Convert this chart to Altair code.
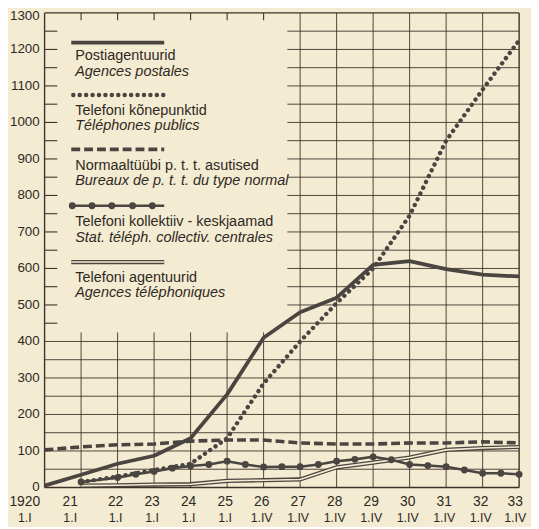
import altair as alt
import pandas as pd

# ---------------- data ----------------
years = list(range(1920, 1934))
post_agencies = [5, 35, 65, 87, 135, 255, 410, 480, 520, 610, 620, 598, 583, 578]

pub_years = list(range(1921, 1934))
pub_phones = [15, 30, 48, 65, 135, 285, 400, 505, 600, 745, 950, 1090, 1225]

normal_offices = [103, 111, 117, 119, 127, 130, 130, 122, 119, 119, 122, 122, 125, 122]

coll_years = [1921, 1922, 1922.5, 1923, 1923.5, 1924, 1924.5, 1925, 1925.5, 1926,
              1926.5, 1927, 1927.5, 1928, 1928.5, 1929, 1929.5, 1930, 1930.5,
              1931, 1931.5, 1932, 1932.5, 1933]
coll_centrals = [15, 27, 36, 44, 53, 59, 63, 72, 63, 56,
                 57, 57, 63, 72, 77, 84, 76, 63, 60,
                 57, 48, 39, 39, 36]

agent_years = list(range(1921, 1934))
tel_agencies = [5, 6, 8, 9, 18, 20, 22, 55, 68, 82, 103, 108, 111]

x_top_labels = ["1920", "21", "22", "23", "24", "25", "26", "27", "28", "29", "30", "31", "32", "33"]
x_bottom_labels = ["1.I"] * 6 + ["1.IV"] * 8
y_label_values = list(range(0, 1301, 100))

legend_et = ["Postiagentuurid", "Telefoni kõnepunktid", "Normaaltüübi p. t. t. asutised",
             "Telefoni kollektiiv - keskjaamad", "Telefoni agentuurid"]
legend_fr = ["Agences postales", "Téléphones publics", "Bureaux de p. t. t. du type normal",
             "Stat. téléph. collectiv. centrales", "Agences téléphoniques"]

# ---------------- styling ----------------
BG = "#f3ecd2"
GRID = "#3e322b"
INK = "#4a4540"
TXT = "#2f2823"
FONT = "Liberation Sans"
W, H = 480, 480

# legend box (blank part of the grid), in data units
box_right = 1926.65
box_bottom = 425

xs = alt.Scale(domain=[1920, 1933], nice=False, zero=False)
ys = alt.Scale(domain=[0, 1300], nice=False, zero=False)

# ---------------- grid ----------------
h_rows = []
for v in range(50, 1300, 50):
    h_rows.append({"y": v, "x1": 1920 if v < box_bottom else box_right, "x2": 1933})
h_grid = alt.Chart(pd.DataFrame(h_rows)).mark_rule(color=GRID, strokeWidth=0.9).encode(
    x=alt.X("x1:Q", scale=xs, axis=None), x2="x2:Q",
    y=alt.Y("y:Q", scale=ys, axis=None))

v_rows = []
for yr in range(1921, 1933):
    v_rows.append({"x": yr, "y1": 0, "y2": box_bottom if yr < box_right else 1300})
v_grid = alt.Chart(pd.DataFrame(v_rows)).mark_rule(color=GRID, strokeWidth=0.9).encode(
    x=alt.X("x:Q", scale=xs, axis=None),
    y=alt.Y("y1:Q", scale=ys, axis=None), y2="y2:Q")

# inward ticks inside the legend box
lt_rows = [{"y": v, "x1": 1920, "x2": 1920.35} for v in range(450, 1300, 50)]
left_ticks = alt.Chart(pd.DataFrame(lt_rows)).mark_rule(color=GRID, strokeWidth=1.1).encode(
    x=alt.X("x1:Q", scale=xs, axis=None), x2="x2:Q",
    y=alt.Y("y:Q", scale=ys, axis=None))
tt_rows = [{"x": yr, "y1": 1300, "y2": 1280} for yr in range(1921, 1927)]
top_ticks = alt.Chart(pd.DataFrame(tt_rows)).mark_rule(color=GRID, strokeWidth=1.1).encode(
    x=alt.X("x:Q", scale=xs, axis=None),
    y=alt.Y("y1:Q", scale=ys, axis=None), y2="y2:Q")

# frame
frame_h = alt.Chart(pd.DataFrame({"y": [0, 1300], "x1": [1920, 1920], "x2": [1933, 1933]})).mark_rule(
    color=GRID, strokeWidth=1.4).encode(
    x=alt.X("x1:Q", scale=xs, axis=None), x2="x2:Q",
    y=alt.Y("y:Q", scale=ys, axis=None))
frame_v = alt.Chart(pd.DataFrame({"x": [1920, 1933], "y1": [0, 0], "y2": [1300, 1300]})).mark_rule(
    color=GRID, strokeWidth=1.4).encode(
    x=alt.X("x:Q", scale=xs, axis=None),
    y=alt.Y("y1:Q", scale=ys, axis=None), y2="y2:Q")

# y labels
df_yl = pd.DataFrame({"v": y_label_values, "lab": [str(v) for v in y_label_values]})

def ylabels(flt, dy):
    return alt.Chart(df_yl).transform_filter(flt).mark_text(
        font=FONT, fontSize=13.5, color=TXT, align="right", baseline="middle", dy=dy).encode(
        x=alt.value(-5), y=alt.Y("v:Q", scale=ys, axis=None), text="lab:N")

y_labels = [ylabels("datum.v < 1300", 0), ylabels("datum.v == 1300", 3)]

# ---------------- series ----------------
def enc(chart):
    return chart.encode(x=alt.X("year:Q", scale=xs, axis=None),
                        y=alt.Y("value:Q", scale=ys, axis=None))

df_post = pd.DataFrame({"year": years, "value": post_agencies})
df_pub = pd.DataFrame({"year": pub_years, "value": pub_phones})
df_norm = pd.DataFrame({"year": years, "value": normal_offices})
df_coll = pd.DataFrame({"year": coll_years, "value": coll_centrals})
df_agent = pd.DataFrame({"year": agent_years, "value": tel_agencies})

agent_outer = enc(alt.Chart(df_agent).mark_line(color=INK, strokeWidth=4.2))
agent_inner = enc(alt.Chart(df_agent).mark_line(color=BG, strokeWidth=1.6))
norm_line = enc(alt.Chart(df_norm).mark_line(color=INK, strokeWidth=3.6, strokeDash=[9, 4]))
coll_line = enc(alt.Chart(df_coll).mark_line(color=INK, strokeWidth=2.6))
coll_pts = enc(alt.Chart(df_coll).mark_circle(color=INK, size=48, opacity=1))
post_line = enc(alt.Chart(df_post).mark_line(color=INK, strokeWidth=3.8, strokeJoin="round"))
pub_line = enc(alt.Chart(df_pub).mark_line(color=INK, strokeWidth=4.4, strokeDash=[0.1, 6.4],
                                           strokeCap="round"))

# ---------------- x labels ----------------
df_xl = pd.DataFrame({"year": years, "top": x_top_labels, "bottom": x_bottom_labels})

def xlabels(field, ypix, size, dx, flt):
    return alt.Chart(df_xl).transform_filter(flt).mark_text(
        font=FONT, fontSize=size, color=TXT, baseline="middle", dx=dx).encode(
        x=alt.X("year:Q", scale=xs, axis=None), y=alt.value(ypix), text=f"{field}:N")

xl_layers = []
for field, ypix, size in [("top", 495, 14), ("bottom", 511, 12.5)]:
    xl_layers.append(xlabels(field, ypix, size, -20, "datum.year == 1920"))
    xl_layers.append(xlabels(field, ypix, size, -11, "datum.year == 1921"))
    xl_layers.append(xlabels(field, ypix, size, -2, "datum.year > 1921 && datum.year < 1933"))
    xl_layers.append(xlabels(field, ypix, size, -4, "datum.year == 1933"))

# ---------------- legend ----------------
one = pd.DataFrame({"a": [0]})
sx1, sx2 = 27, 121
sample_y = [30, 83, 138, 195, 252]
text_y = [44, 99, 155, 212, 268]
leg = []
leg.append(alt.Chart(one).mark_rule(color=INK, strokeWidth=3.8).encode(
    x=alt.value(sx1), x2=alt.value(sx2), y=alt.value(sample_y[0])))
leg.append(alt.Chart(one).mark_rule(color=INK, strokeWidth=4.4, strokeDash=[0.1, 6.4], strokeCap="round").encode(
    x=alt.value(sx1 + 2), x2=alt.value(sx2), y=alt.value(sample_y[1])))
leg.append(alt.Chart(one).mark_rule(color=INK, strokeWidth=3.6, strokeDash=[9, 4]).encode(
    x=alt.value(sx1), x2=alt.value(sx2), y=alt.value(sample_y[2])))
leg.append(alt.Chart(one).mark_rule(color=INK, strokeWidth=2.6).encode(
    x=alt.value(sx1), x2=alt.value(sx2), y=alt.value(sample_y[3])))
for px in [28, 48, 68, 89, 109]:
    leg.append(alt.Chart(one).mark_circle(color=INK, size=48, opacity=1).encode(
        x=alt.value(px), y=alt.value(sample_y[3])))
leg.append(alt.Chart(one).mark_rule(color=INK, strokeWidth=4.2).encode(
    x=alt.value(sx1), x2=alt.value(sx2), y=alt.value(sample_y[4])))
leg.append(alt.Chart(one).mark_rule(color=BG, strokeWidth=1.6).encode(
    x=alt.value(sx1), x2=alt.value(sx2), y=alt.value(sample_y[4])))
for i in range(5):
    leg.append(alt.Chart(one).mark_text(font=FONT, fontSize=14.6, color=TXT, align="left",
                                        baseline="middle").encode(
        x=alt.value(31), y=alt.value(text_y[i]), text=alt.value(legend_et[i])))
    leg.append(alt.Chart(one).mark_text(font=FONT, fontSize=14.6, fontStyle="italic", color=TXT,
                                        align="left", baseline="middle").encode(
        x=alt.value(31), y=alt.value(text_y[i] + 15.5), text=alt.value(legend_fr[i])))

chart = alt.layer(
    h_grid, v_grid, left_ticks, top_ticks, frame_h, frame_v, *y_labels,
    agent_outer, agent_inner, norm_line, coll_line, coll_pts, post_line, pub_line,
    *xl_layers, *leg
).properties(
    width=W, height=H,
    background=BG,
    padding={"left": 37, "top": 2, "right": 12, "bottom": 37},
    autosize=alt.AutoSizeParams(type="none"),
).configure_view(stroke=None)

chart.save("out.html", embed_options={"renderer": "svg", "actions": False})
